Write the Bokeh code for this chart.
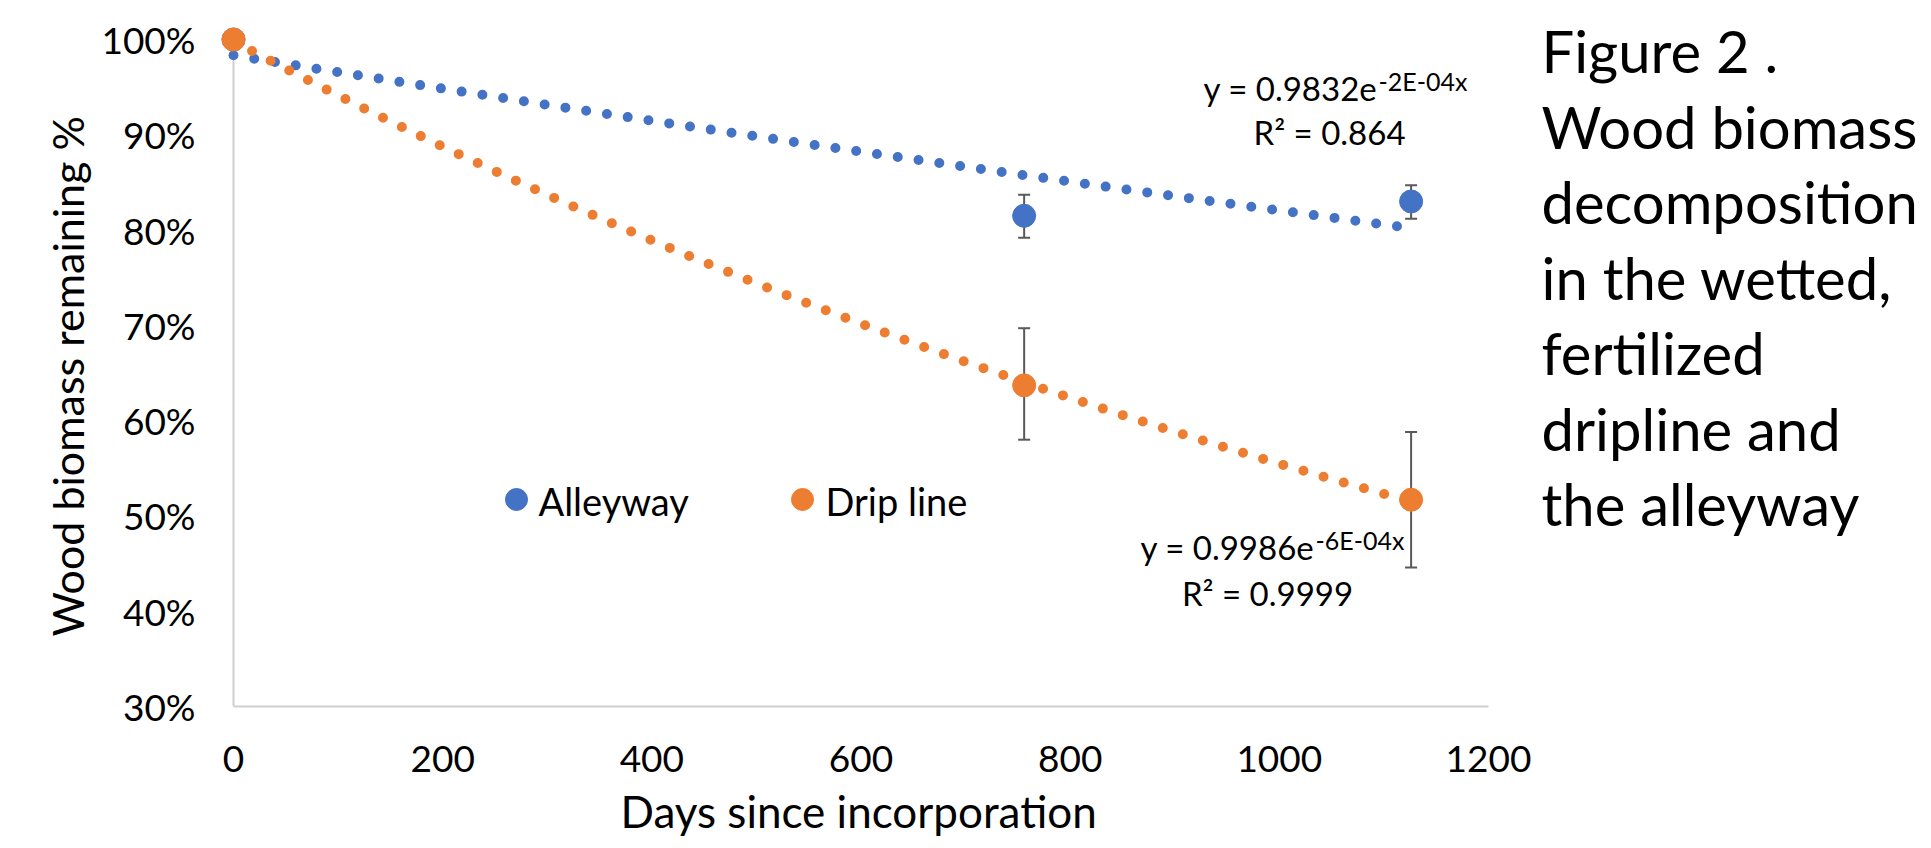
import numpy as np
from bokeh.plotting import figure
from bokeh.layouts import row
from bokeh.models import (ColumnDataSource, FixedTicker, NumeralTickFormatter,
                          Label, Whisker, TeeHead, Title, Range1d)
from bokeh.embed import file_html
from bokeh.resources import INLINE
from bokeh.core.properties import value

# ---------------- data ----------------
series_names = ["Alleyway", "Drip line"]
series_colors = ["#4472C4", "#ED7D31"]
days = [0, 756, 1126]
alleyway = [1.000, 0.815, 0.830]
alleyway_upper = [0.837, 0.847]
alleyway_lower = [0.792, 0.812]
dripline = [1.000, 0.637, 0.517]
dripline_upper = [0.697, 0.588]
dripline_lower = [0.580, 0.446]
err_days = [756, 1126]
x_ticks = [0, 200, 400, 600, 800, 1000, 1200]
y_ticks = [0.3, 0.4, 0.5, 0.6, 0.7, 0.8, 0.9, 1.0]
eq_alleyway = ["y = 0.9832e", "-2E-04x", "R\u00b2 = 0.864"]
eq_dripline = ["y = 0.9986e", "-6E-04x", "R\u00b2 = 0.9999"]
x_title = "Days since incorporation"
y_title = "Wood biomass remaining %"
caption = ["Figure 2 .", "Wood biomass", "decomposition", "in the wetted,",
           "fertilized", "dripline and", "the alleyway"]

# ---------------- layout (page pixels) ----------------
TOTAL_W, H = 1931, 848
MAIN_W = 1535
X0_PX, X1200_PX = 233, 1488        # page x of day 0 and day 1200
Y100_PX, Y30_PX = 39, 706          # page y of 100 % and 30 %
FRAME_LEFT_PX, FRAME_TOP_PX = 207, 11
PX_PER_X = (X1200_PX - X0_PX) / 1200.0
PX_PER_Y = (Y30_PX - Y100_PX) / 0.7


def dx(px):
    return (px - X0_PX) / PX_PER_X


def dy(py):
    return 1.0 - (py - Y100_PX) / PX_PER_Y


FONT = "Lato"
GRAY_AXIS = "#D0D0D0"

p = figure(width=MAIN_W, height=H, output_backend="svg", toolbar_location=None,
           x_range=(dx(FRAME_LEFT_PX), 1200), y_range=(0.3, dy(FRAME_TOP_PX)),
           min_border_left=FRAME_LEFT_PX, min_border_right=MAIN_W - X1200_PX,
           min_border_top=FRAME_TOP_PX, min_border_bottom=H - Y30_PX)
p.outline_line_color = None
p.grid.visible = False
p.background_fill_color = "white"
p.border_fill_color = "white"

# axes
p.xaxis.ticker = FixedTicker(ticks=x_ticks)
p.xaxis.bounds = (x_ticks[0], x_ticks[-1])
p.xaxis.axis_line_color = GRAY_AXIS
p.xaxis.axis_line_width = 2
p.yaxis.ticker = FixedTicker(ticks=y_ticks)
p.yaxis.formatter = NumeralTickFormatter(format="0%")
p.yaxis.axis_line_color = None
for ax in (p.xaxis, p.yaxis):
    ax.major_tick_line_color = None
    ax.minor_tick_line_color = None
    ax.major_tick_out = 0
    ax.major_tick_in = 0
    ax.major_label_text_font = FONT
    ax.major_label_text_font_size = "37px"
    ax.major_label_text_color = "black"
p.xaxis.major_label_standoff = 39
p.yaxis.major_label_standoff = 12

# axis titles
p.add_layout(Title(text=x_title, align="left", offset=413, standoff=17,
                   text_font=FONT, text_font_size="44px", text_font_style="normal",
                   text_color="black"), "below")
p.add_layout(Title(text=y_title, align="left", offset=70, standoff=12,
                   text_font=FONT, text_font_size="43px", text_font_style="normal",
                   text_color="black"), "left")

# y axis line at day 0
p.segment(x0=[x_ticks[0]], y0=[y_ticks[0]], x1=[x_ticks[0]], y1=[y_ticks[-1]],
          line_color=GRAY_AXIS, line_width=2)

# error bars
for upper, lower in ((alleyway_upper, alleyway_lower), (dripline_upper, dripline_lower)):
    src = ColumnDataSource(dict(x=err_days, upper=upper, lower=lower))
    w = Whisker(source=src, base="x", upper="upper", lower="lower",
                line_color="#595959", line_width=2, level="underlay",
                upper_head=TeeHead(size=12, line_color="#595959", line_width=2),
                lower_head=TeeHead(size=12, line_color="#595959", line_width=2))
    p.add_layout(w)

# exponential trendlines (least squares on ln y, as the spreadsheet does)
xs = np.linspace(0, max(days), 300)
for vals, col in ((alleyway, series_colors[0]), (dripline, series_colors[1])):
    k, b = np.polyfit(days, np.log(vals), 1)
    p.line(xs, np.exp(b) * np.exp(k * xs), line_color=col, line_width=10,
           line_dash="0 21", line_cap="round")

# markers
for vals, col in ((alleyway, series_colors[0]), (dripline, series_colors[1])):
    p.scatter(days, vals, size=23, color=col, marker="circle")

# legend (manual, to match marker/label spacing)
leg = ColumnDataSource(dict(mx=[dx(516), dx(802)], tx=[dx(538), dx(825)],
                            my=[dy(499)] * 2, ty=[dy(500)] * 2,
                            name=series_names, color=series_colors))
p.scatter("mx", "my", source=leg, size=22, color="color", marker="circle")
p.text("tx", "ty", text="name", source=leg, text_font=value(FONT),
       text_font_size="38px", text_baseline="middle", text_align="left",
       text_color="black")

# trendline equations


def equation(eq, join_px, base_py, sup_py, r2_cx, r2_py):
    p.add_layout(Label(x=dx(join_px), y=dy(base_py), text=eq[0], text_font=FONT,
                       text_font_size="33px", text_align="right",
                       text_baseline="middle", text_color="black"))
    p.add_layout(Label(x=dx(join_px + 1), y=dy(sup_py), text=eq[1], text_font=FONT,
                       text_font_size="25px", text_align="left",
                       text_baseline="middle", text_color="black"))
    p.add_layout(Label(x=dx(r2_cx), y=dy(r2_py), text=eq[2], text_font=FONT,
                       text_font_size="33px", text_align="center",
                       text_baseline="middle", text_color="black"))


equation(eq_alleyway, 1377, 87, 80, 1329, 131)
equation(eq_dripline, 1314, 546, 539, 1267, 592)

# caption panel at the right (its frame is aligned with the main frame)
cap_w = TOTAL_W - MAIN_W
c = figure(width=cap_w, height=H, output_backend="svg", toolbar_location=None,
           x_range=Range1d(0, cap_w), y_range=Range1d(Y30_PX, FRAME_TOP_PX),
           x_axis_type=None, y_axis_type=None,
           min_border_left=0, min_border_right=0,
           min_border_top=FRAME_TOP_PX, min_border_bottom=H - Y30_PX)
c.outline_line_color = None
c.grid.visible = False
c.background_fill_color = "white"
c.border_fill_color = "white"
for i, line in enumerate(caption):
    c.add_layout(Label(x=1541 - MAIN_W, y=50 + 75.5 * i, text=line, text_font=FONT,
                       text_font_size="58px", text_align="left",
                       text_baseline="middle", text_color="black"))

open("out.html", "w").write(file_html(row(p, c), INLINE))
